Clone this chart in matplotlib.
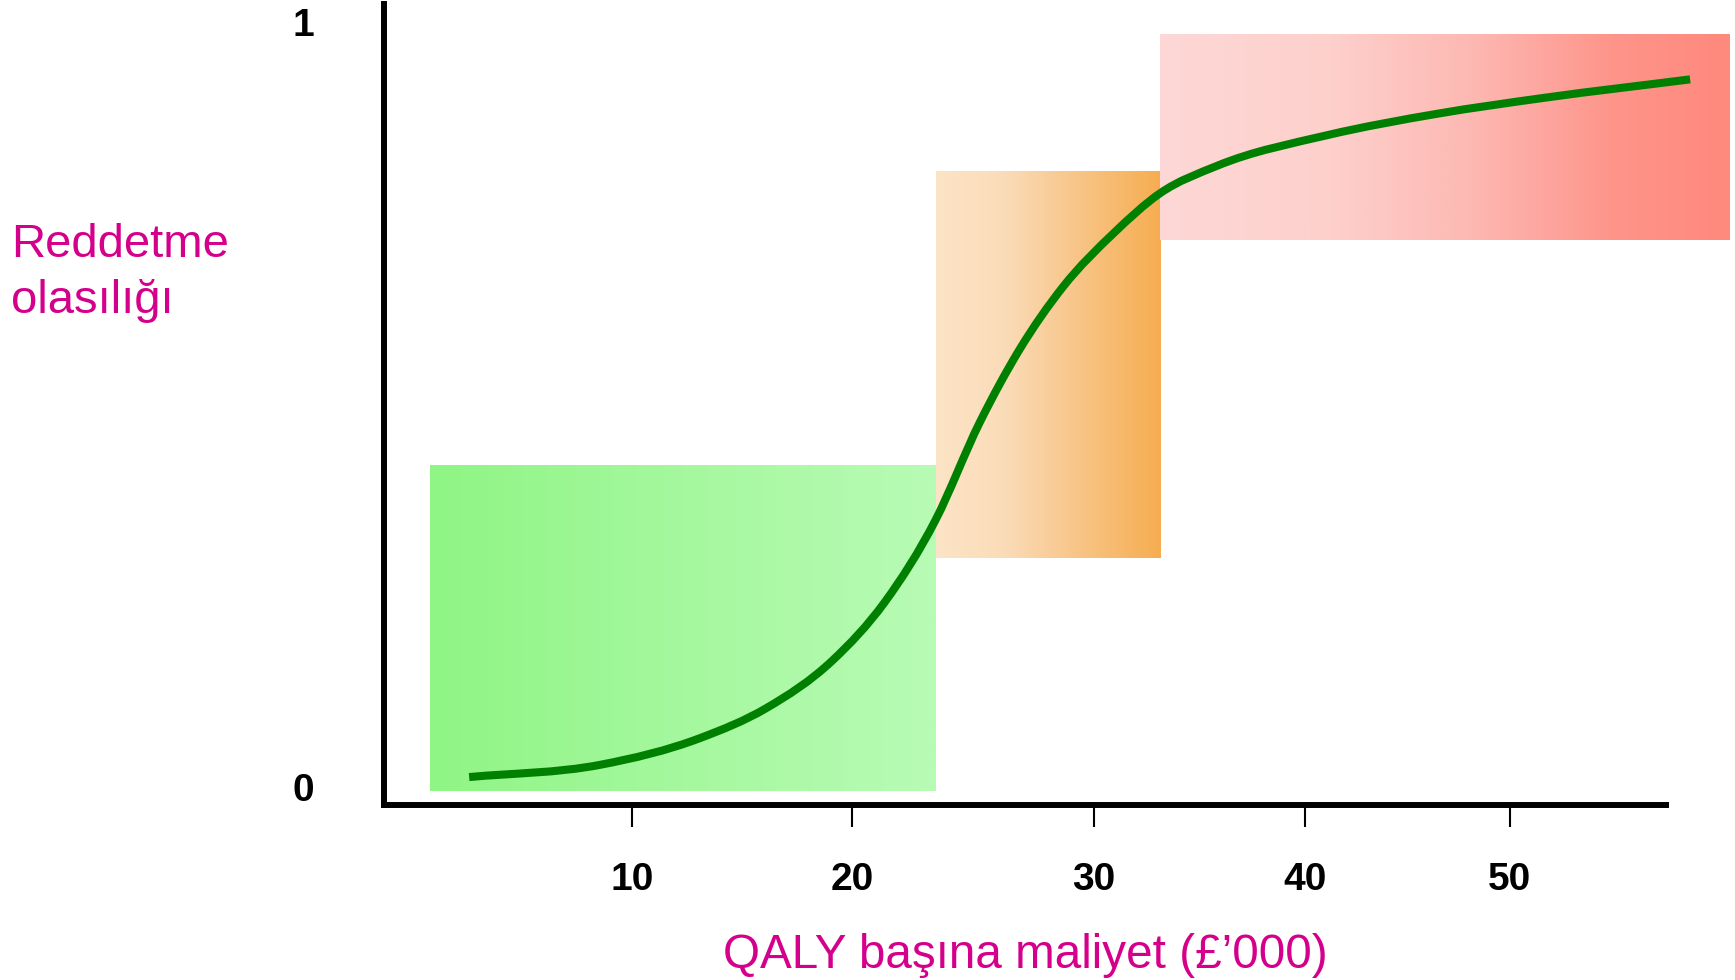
import numpy as np
import matplotlib.pyplot as plt
from matplotlib.colors import LinearSegmentedColormap
from matplotlib.path import Path
from matplotlib.patches import PathPatch

plt.rcParams['font.family'] = ['Liberation Sans', 'DejaVu Sans']

# x ticks (positions, slightly uneven) and labels
x_ticks = [10, 20, 31, 40.6, 49.9]
x_labels = ['10', '20', '30', '40', '50']
y_ticks = [0, 1]
y_labels = ['0', '1']

# rejection probability curve
curve_x = [2.6, 8.55, 13.1, 16.1, 19.1, 21.5, 23.8, 25.8, 27.6, 29.6,
           31.9, 34.0, 36.6, 41.6, 46.6, 51.5, 58.1]
curve_y = [0.013, 0.029, 0.064, 0.103, 0.165, 0.242, 0.349, 0.476, 0.571, 0.654,
           0.724, 0.776, 0.812, 0.852, 0.880, 0.901, 0.925]

# three shaded zones: x range, y range, gradient stops
zone_x0 = [0.8, 23.8, 34.0]
zone_x1 = [23.8, 34.0, 59.9]
zone_y0 = [-0.005, 0.30, 0.715]
zone_y1 = [0.42, 0.805, 0.983]
zone_stops = [
    [(0, '#8ff584'), (0.5, '#a5f89e'), (1, '#b8fbb5')],
    [(0, '#fce4c6'), (0.3, '#fbdcb9'), (0.6, '#f8c78c'), (1, '#f6ad50')],
    [(0, '#fdd8d6'), (0.3, '#fdd0cc'), (0.55, '#fdb8b2'), (0.8, '#fe948a'), (1, '#ff897d')],
]

magenta = '#d4008c'

fig = plt.figure(figsize=(17.35, 9.8), dpi=100)
ax = fig.add_axes([384 / 1735, 175 / 980, (1735 - 384) / 1735, (805 - 4) / 980])

grad = np.linspace(0, 1, 256).reshape(1, -1)
for x0, x1, y0, y1, stops in zip(zone_x0, zone_x1, zone_y0, zone_y1, zone_stops):
    cmap = LinearSegmentedColormap.from_list('z', stops)
    ax.imshow(grad, cmap=cmap, extent=(x0, x1, y0, y1), aspect='auto',
              interpolation='bilinear', zorder=1)

# smooth curve through the points: cubic Bezier segments with
# spacing-weighted slopes at each point
cx = np.array(curve_x)
cy = np.array(curve_y)
h = np.diff(cx)
d = np.diff(cy) / h
m = np.empty_like(cx)
m[0], m[-1] = d[0], d[-1]
m[1:-1] = (d[:-1] * h[1:] + d[1:] * h[:-1]) / (h[:-1] + h[1:])
verts = [(cx[0], cy[0])]
codes = [Path.MOVETO]
for i in range(len(h)):
    verts += [(cx[i] + h[i] / 3, cy[i] + m[i] * h[i] / 3),
              (cx[i + 1] - h[i] / 3, cy[i + 1] - m[i + 1] * h[i] / 3),
              (cx[i + 1], cy[i + 1])]
    codes += [Path.CURVE4] * 3
ax.add_patch(PathPatch(Path(verts, codes), fill=False, edgecolor='#008000',
                       linewidth=5.8, capstyle='butt', joinstyle='round', zorder=3))

ax.set_xlim(-1.27, 60.14)
ax.set_ylim(-0.0235, 1.0235)

for s in ['top', 'right']:
    ax.spines[s].set_visible(False)
for s in ['left', 'bottom']:
    ax.spines[s].set_linewidth(4.3)
    ax.spines[s].set_zorder(4)
ax.spines['bottom'].set_bounds(-1.27, 57.0)

ax.set_xticks(x_ticks)
ax.set_xticklabels(x_labels, fontsize=28, fontweight='bold')
ax.set_yticks(y_ticks)
ax.set_yticklabels(y_labels, fontsize=28, fontweight='bold')
ax.tick_params(axis='x', direction='out', length=16, width=1.5, pad=25)
ax.tick_params(axis='y', length=0, pad=50)
ax.patch.set_alpha(0)

fig.text(11 / 1735, 1 - 273 / 980, 'Reddetme\nolasılığı', color=magenta,
         fontsize=34, ha='left', va='center', linespacing=1.35)
fig.text(1025 / 1735, 1 - 968 / 980, 'QALY başına maliyet (£’000)', color=magenta,
         fontsize=34.3, ha='center', va='baseline')

fig.savefig('out.png', dpi=100)
